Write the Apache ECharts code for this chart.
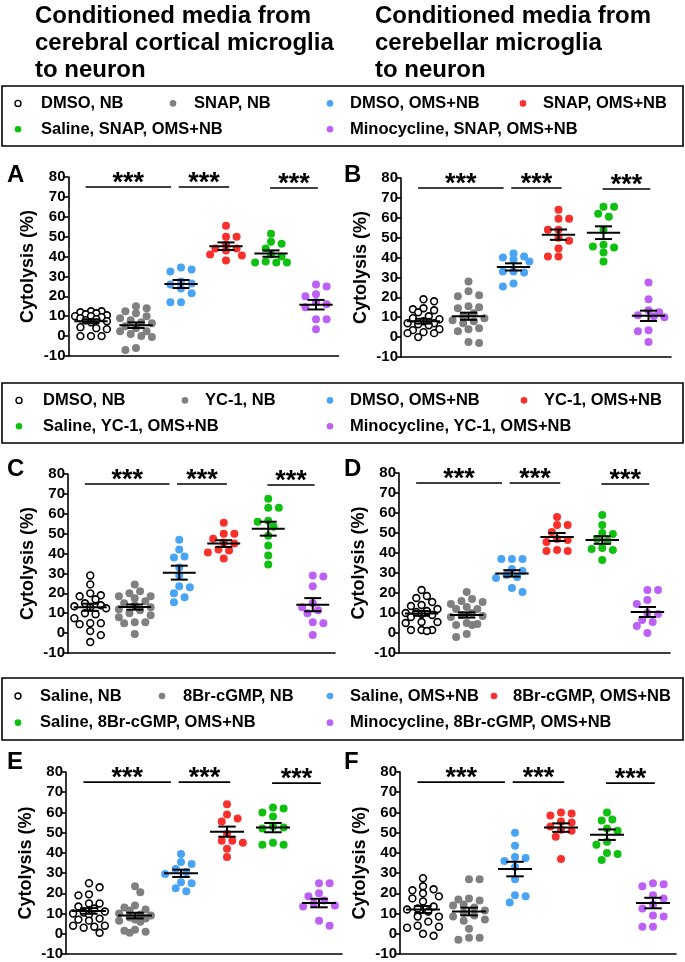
<!DOCTYPE html>
<html><head><meta charset="utf-8">
<script src="https://cdn.jsdelivr.net/npm/echarts@6/dist/echarts.min.js"></script>
<style>html,body{margin:0;padding:0;background:#fff}#c{width:685px;height:962px}</style>
</head><body><div id="c"></div><script>
// ---------------- DATA ----------------
const titleLeft = ['Conditioned media from', 'cerebral cortical microglia', 'to neuron'];
const titleRight = ['Conditioned media from', 'cerebellar microglia', 'to neuron'];

const legend1 = ['DMSO, NB', 'SNAP, NB', 'DMSO, OMS+NB', 'SNAP, OMS+NB', 'Saline, SNAP, OMS+NB', 'Minocycline, SNAP, OMS+NB'];
const legend2 = ['DMSO, NB', 'YC-1, NB', 'DMSO, OMS+NB', 'YC-1, OMS+NB', 'Saline, YC-1, OMS+NB', 'Minocycline, YC-1, OMS+NB'];
const legend3 = ['Saline, NB', '8Br-cGMP, NB', 'Saline, OMS+NB', '8Br-cGMP, OMS+NB', 'Saline, 8Br-cGMP, OMS+NB', 'Minocycline, 8Br-cGMP, OMS+NB'];

const yTicks = [-10, 0, 10, 20, 30, 40, 50, 60, 70, 80];
const yTitle = 'Cytolysis (%)';
const sigLabel = '***';
// significance bars: [from, to] in group-index units, and height (%)
const sigFrom = [-0.12, 1.95, 3.98];
const sigTo = [1.78, 3.07, 5.04];
const sigHeight = [75, 75, 74.5];

// Panel A
const A1 = [12.5, 12.5, 12, 11.5, 11, 10.5, 10, 10, 9.5, 9, 8.5, 8, 7.5, 7, 4.5, 4, 3.5, 0, 0, 0];
const A2 = [15, 14, 12.5, 11.5, 10, 9, 8, 7, 6.5, 5, 4, 2.5, 2.5, 1, 0, -0.5, -6, -7];
const A3 = [34.5, 33.5, 32.5, 27.5, 26.5, 26, 24, 21.5, 17, 17];
const A4 = [55.5, 50, 50, 46, 44, 44, 43, 41, 40.5, 38];
const A5 = [51.5, 47.5, 46.5, 44, 41, 40, 37.5, 37, 37, 37];
const A6 = [26, 25, 21, 20, 17, 16, 14.5, 8.5, 8.5, 3.5];
const meanA = [7.5, 5.5, 26.2, 45.2, 41.5, 15.8];
const semA = [1.0, 1.4, 2.0, 1.9, 1.6, 2.4];

// Panel B
const B1 = [19, 18, 14.5, 14, 13.5, 12.5, 10.5, 9.5, 9, 8, 7, 7, 6.5, 6, 4, 3.5, 2.5, 2, 2, 0];
const B2 = [28, 23, 21, 20.5, 15.5, 14.5, 15, 12, 10.5, 9.5, 8.5, 8, 7, 4.5, 4, 3, -3, -2.5];
const B3 = [42, 40.5, 40, 39, 38, 33, 33, 32.5, 27, 25.5];
const B4 = [64, 59.5, 59.5, 54, 54, 50, 48.5, 44.5, 40.5, 40.5];
const B5 = [65.5, 65.5, 62, 60.5, 54, 46.5, 45.5, 45, 42.5, 38];
const B6 = [27.5, 19, 13.5, 12.5, 11, 10.5, 10, 3.5, 3, -2.5];
const meanB = [8.0, 10.5, 35.3, 51.5, 52.5, 10.7];
const semB = [1.2, 1.8, 1.8, 2.6, 3.2, 2.6];

// Panel C
const C1 = [29, 24.5, 20, 19, 18.5, 17, 15, 14, 13.5, 13, 12.5, 10, 9.5, 7.5, 5, 5, 4.5, 1, -1, -4.5];
const C2 = [24.5, 21, 20, 18.5, 18.5, 17.5, 16, 15, 14, 13, 12, 11.5, 10, 9, 8, 5.5, 5.5, 5, -0.5];
const C3 = [47, 42, 38.5, 38, 33, 29, 23.5, 23, 20, 18, 15.5];
const C4 = [55.5, 50, 50, 47.5, 45.5, 45, 42, 41.5, 40.5, 37.5];
const C5 = [67.5, 63, 63, 56.5, 56, 53.5, 49, 44, 39, 34.5];
const C6 = [29, 28.5, 23.5, 15, 13, 11.5, 10, 5.5, 5, -1];
const meanC = [13.0, 13.1, 30.4, 45.0, 52.5, 14.3];
const semC = [1.8, 1.3, 3.5, 1.7, 3.5, 3.3];

// Panel D
const D1 = [21.5, 18.5, 17.5, 15.5, 14, 13.5, 12, 11, 10.5, 10, 9.5, 9, 8, 5.5, 5.5, 5, 1.5, 1.5, 1.5, 1];
const D2 = [20.5, 17, 16, 15.5, 14.5, 13, 12, 12, 10, 9, 8.5, 8, 5, 4.5, 4, 4, -0.5, -2];
const D3 = [37, 37, 37, 32, 31, 29, 28, 27.5, 22.5, 20.5];
const D4 = [58, 54, 54, 50.5, 47, 46.5, 45.5, 41.5, 41, 41];
const D5 = [59, 54, 50, 49.5, 47, 46, 42.5, 42, 41.5, 36.5];
const D6 = [21.5, 21.5, 16.5, 14.5, 10, 9.5, 6.5, 5.5, 3.5, 0];
const meanD = [9.8, 9.0, 29.8, 48.0, 46.5, 10.5];
const semD = [1.2, 1.3, 1.6, 2.0, 1.9, 2.5];

// Panel E
const E1 = [25, 23, 19.5, 19, 15, 15, 13.5, 12.5, 11, 10.5, 10, 9.5, 7.5, 7, 6.5, 4, 4, 3.5, 3, 0.5];
const E2 = [23.5, 20.5, 14, 13, 12, 11.5, 10, 9.5, 9, 8, 7.5, 7, 6.5, 6, 2, 1.5, 1, 0.5];
const E3 = [39.5, 35.5, 34.5, 32, 30.5, 29.5, 25.5, 25, 22.5, 21];
const E4 = [64, 59, 57, 55.5, 49.5, 46, 46, 45, 42, 38];
const E5 = [62.5, 62, 60, 58, 53, 52.5, 52, 45, 44, 44];
const E6 = [25, 25, 20, 18.5, 16.5, 15, 14, 13.5, 6.5, 4];
const meanE = [11.3, 9.0, 29.9, 50.5, 52.5, 15.2];
const semE = [1.4, 1.4, 1.8, 2.5, 2.3, 2.1];

// Panel F
const F1 = [27.5, 23.5, 22, 21.5, 20, 18.5, 17.5, 16, 13.5, 12.5, 12, 11, 8.5, 8.5, 6, 4, 3.5, 3, 0, -1];
const F2 = [27, 27, 17.5, 17, 16.5, 14.5, 14, 13, 11.5, 10.5, 9, 8.5, 7, 6.5, 2.5, -2, -3, -2];
const F3 = [50, 43.5, 38, 37.5, 36, 33, 27, 19, 18.5, 15.5];
const F4 = [60, 59.5, 58.5, 55.5, 55, 53, 51.5, 51, 48, 37];
const F5 = [60, 56.5, 56, 52, 51, 45.5, 44, 40, 39.5, 36.5];
const F6 = [25, 24.5, 23.5, 19, 17.5, 14.5, 12.5, 9, 8.5, 3.5, 3.5];
const meanF = [12.0, 11.0, 32.0, 52.5, 49.0, 15.2];
const semF = [1.7, 1.9, 3.6, 2.1, 2.6, 2.6];

// ---------------- STYLE / LAYOUT ----------------
const FONT = '"Liberation Sans", Arial, Helvetica, sans-serif';
const colors = ['#ffffff', '#808080', '#4aa4f6', '#f9302c', '#10c010', '#bc60f6'];
const panels = [
  { letter: 'A', groups: [A1, A2, A3, A4, A5, A6], mean: meanA, sem: semA, legend: legend1,
    grid: { left: 68.5, top: 177, width: 270, height: 179 }, letterPos: [7, 163] },
  { letter: 'B', groups: [B1, B2, B3, B4, B5, B6], mean: meanB, sem: semB, legend: legend1,
    grid: { left: 401, top: 178, width: 270, height: 179 }, letterPos: [344, 163] },
  { letter: 'C', groups: [C1, C2, C3, C4, C5, C6], mean: meanC, sem: semC, legend: legend2,
    grid: { left: 68, top: 474, width: 267, height: 179 }, letterPos: [7, 457] },
  { letter: 'D', groups: [D1, D2, D3, D4, D5, D6], mean: meanD, sem: semD, legend: legend2,
    grid: { left: 399, top: 473, width: 271, height: 180 }, letterPos: [344, 457] },
  { letter: 'E', groups: [E1, E2, E3, E4, E5, E6], mean: meanE, sem: semE, legend: legend3,
    grid: { left: 66, top: 772, width: 276, height: 182 }, letterPos: [7, 750] },
  { letter: 'F', groups: [F1, F2, F3, F4, F5, F6], mean: meanF, sem: semF, legend: legend3,
    grid: { left: 400, top: 772, width: 276, height: 182 }, letterPos: [344, 750] }
];
const legendBoxes = [
  { labels: legend1, top: 86, height: 60, markX: [18, 173, 330, 523], textX: [41, 194, 350, 543] },
  { labels: legend2, top: 383, height: 60, markX: [19, 185, 330, 524], textX: [43, 205, 350, 544] },
  { labels: legend3, top: 678, height: 62, markX: [18, 162, 330, 494], textX: [40, 183, 350, 513] }
];

const SYM = 8;
// beeswarm layout: horizontal offsets (group-index units), limited width, overlap minimised
function swarm(vals, pxY, pxX) {
  const order = vals.map((v, i) => i).sort((a, b) => vals[b] - vals[a]);
  const step = 5.3, minD = 7.4, maxK = 3;
  const cands = [0];
  for (let k = 1; k <= maxK; k++) cands.push(k * step, -k * step);
  const placed = [];
  const off = new Array(vals.length).fill(0);
  let bal = 0;
  for (const i of order) {
    const y = vals[i] * pxY;
    const dmin = (x) => placed.reduce((m, p) => Math.min(m, Math.hypot(p[0] - x, p[1] - y)), Infinity);
    let best = null, bestD = -1;
    for (let j = 0; j < cands.length; j++) {
      let c = cands[j];
      if (j > 0 && bal > 0) c = -c;
      const d = dmin(c);
      if (d >= minD) { best = c; break; }
      if (d > bestD + 0.5) { bestD = d; best = c; }
    }
    bal += Math.sign(best);
    placed.push([best, y]);
    off[i] = best / pxX;
  }
  return off;
}

const option = { animation: false, backgroundColor: '#fff', grid: [], xAxis: [], yAxis: [], series: [], graphic: [] };

panels.forEach((p, k) => {
  option.grid.push(Object.assign({ containLabel: false }, p.grid));
  option.xAxis.push({
    type: 'category', gridIndex: k, data: p.legend, boundaryGap: true,
    axisLine: { onZero: false, lineStyle: { color: '#000', width: 1.6 } },
    axisTick: { alignWithLabel: true, length: 6, lineStyle: { color: '#000', width: 1.6 } },
    axisLabel: { show: false }, splitLine: { show: false }
  });
  option.xAxis.push({
    type: 'value', gridIndex: k, min: -0.5, max: 5.5, show: false, splitLine: { show: false }
  });
  option.yAxis.push({
    type: 'value', gridIndex: k, min: yTicks[0], max: yTicks[yTicks.length - 1], interval: 10,
    axisLine: { show: true, onZero: false, lineStyle: { color: '#000', width: 1.6 } },
    axisTick: { show: true, length: 5, lineStyle: { color: '#000', width: 1.6 } },
    axisLabel: { color: '#000', fontWeight: 'bold', fontSize: 15, fontFamily: FONT, margin: 3 },
    splitLine: { show: false },
    name: yTitle, nameLocation: 'middle', nameGap: 31, nameRotate: 90,
    nameTextStyle: { color: '#000', fontWeight: 'bold', fontSize: 18, fontFamily: FONT }
  });
  const pxY = p.grid.height / 90, pxX = p.grid.width / 6;
  p.groups.forEach((vals, g) => {
    const off = swarm(vals, pxY, pxX);
    option.series.push({
      type: 'scatter', xAxisIndex: 2 * k + 1, yAxisIndex: k, name: p.legend[g],
      symbol: 'circle', symbolSize: g === 0 ? SYM - 1.2 : SYM, z: 2,
      itemStyle: g === 0 ? { color: '#fff', borderColor: '#000', borderWidth: 1.6, opacity: 1 }
                         : { color: colors[g], opacity: 1 },
      data: vals.map((v, i) => [g + off[i], v])
    });
  });
  // mean +/- SEM
  option.series.push({
    type: 'custom', xAxisIndex: 2 * k + 1, yAxisIndex: k, z: 5,
    data: p.mean.map((m, g) => [g, m, p.sem[g]]),
    renderItem: (params, api) => {
      const g = api.value(0), m = api.value(1), s = api.value(2);
      const c = api.coord([g, m]), t = api.coord([g, m + s]), b = api.coord([g, m - s]);
      const w = api.size([1, 0])[0];
      const st = { stroke: '#000', lineWidth: 2 };
      return { type: 'group', children: [
        { type: 'line', shape: { x1: c[0] - 0.37 * w, y1: c[1], x2: c[0] + 0.37 * w, y2: c[1] }, style: st },
        { type: 'line', shape: { x1: c[0], y1: t[1], x2: c[0], y2: b[1] }, style: st },
        { type: 'line', shape: { x1: c[0] - 0.19 * w, y1: t[1], x2: c[0] + 0.19 * w, y2: t[1] }, style: st },
        { type: 'line', shape: { x1: c[0] - 0.19 * w, y1: b[1], x2: c[0] + 0.19 * w, y2: b[1] }, style: st }
      ] };
    }
  });
  // significance bars
  option.series.push({
    type: 'custom', xAxisIndex: 2 * k + 1, yAxisIndex: k, z: 5, clip: false,
    data: sigFrom.map((f, j) => [f, sigTo[j], sigHeight[j]]),
    renderItem: (params, api) => {
      const a = api.coord([api.value(0), api.value(2)]), b = api.coord([api.value(1), api.value(2)]);
      return { type: 'group', children: [
        { type: 'line', shape: { x1: a[0], y1: a[1], x2: b[0], y2: b[1] }, style: { stroke: '#000', lineWidth: 1.6 } },
        { type: 'text', style: { text: sigLabel, x: (a[0] + b[0]) / 2, y: a[1] - 17, align: 'center', verticalAlign: 'top',
          fill: '#000', font: 'bold 27px ' + FONT } }
      ] };
    }
  });
  option.graphic.push({ type: 'text', left: p.letterPos[0], top: p.letterPos[1],
    style: { text: p.letter, fill: '#000', font: 'bold 24px ' + FONT } });
});

// titles
[[titleLeft, 35], [titleRight, 375]].forEach(([lines, x]) => {
  lines.forEach((t, i) => {
    option.graphic.push({ type: 'text', left: x, top: 4 + i * 27,
      style: { text: t, fill: '#000', font: 'bold 24px ' + FONT } });
  });
});

// legends
legendBoxes.forEach(L => {
  option.graphic.push({ type: 'rect', shape: { x: 2, y: L.top, width: 681, height: L.height },
    style: { fill: 'none', stroke: '#000', lineWidth: 1.6 } });
  const rows = [L.top + L.height * 0.29, L.top + L.height * 0.72];
  L.labels.forEach((lab, i) => {
    const row = i < 4 ? 0 : 1;
    const col = i < 4 ? i : (i === 4 ? 0 : 2);
    const cy = rows[row];
    option.graphic.push({ type: 'circle', shape: { cx: L.markX[col], cy: cy, r: i === 0 ? 3 : 3.3 },
      style: i === 0 ? { fill: '#fff', stroke: '#000', lineWidth: 1.4 } : { fill: colors[i] } });
    option.graphic.push({ type: 'text', x: L.textX[col], y: cy,
      style: { text: lab, fill: '#000', font: 'bold 16.5px ' + FONT, verticalAlign: 'middle' } });
  });
});

const chart = echarts.init(document.getElementById('c'), null, { renderer: 'canvas', width: 685, height: 962 });
chart.setOption(option);
</script></body></html>
